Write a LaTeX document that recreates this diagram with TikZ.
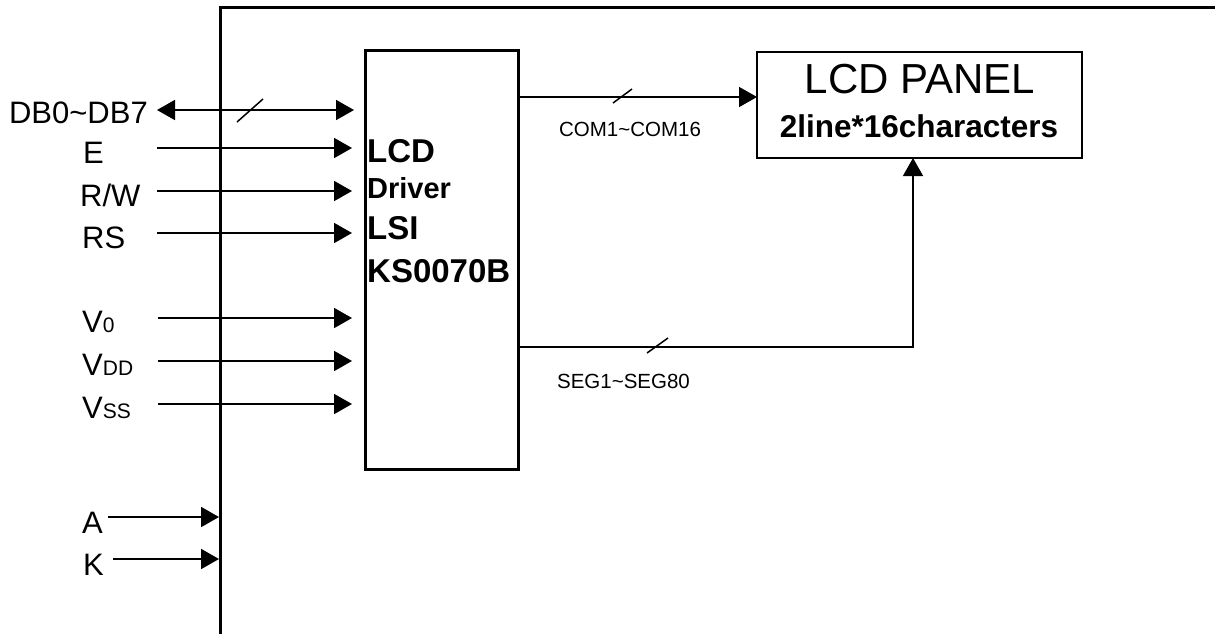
\documentclass[tikz,border=0pt]{standalone}
\usepackage{fontspec}
\setmainfont{Liberation Sans}
\usetikzlibrary{arrows.meta}
\begin{document}
\begin{tikzpicture}[x=1pt,y=-1pt,
  tip/.tip={Triangle[length=18pt,width=20pt]},
  sig/.style={line width=1.8pt,-tip},
  bus/.style={line width=1.5pt},
  lbl/.style={anchor=base west,inner sep=0pt,font=\fontsize{31}{31}\selectfont},
  drvtxt/.style={anchor=base west,inner sep=0pt,font=\bfseries\fontsize{33}{33}\selectfont},
  smalltxt/.style={anchor=base,inner sep=0pt,font=\fontsize{20.5}{20.5}\selectfont}]
\newcommand{\subtxt}[1]{{\fontsize{21}{21}\selectfont #1}}
\useasboundingbox (0,0) rectangle (1215,633);
% outer frame
\coordinate (fbl) at (220,640);
\coordinate (ftl) at (220,7);
\coordinate (ftr) at (1220,7);
\draw[line width=3pt] (fbl) -- (ftl) -- (ftr);
% driver box
\node[draw,line width=3pt,minimum width=153pt,minimum height=419pt,inner sep=0pt,outer sep=0pt,anchor=north west] (drv) at (365,50) {};
\node[drvtxt] (d1) at (367,162) {LCD};
\node[drvtxt,font=\bfseries\fontsize{29}{29}\selectfont] (d2) at (367,198) {Driver};
\node[drvtxt] (d3) at (367,239) {LSI};
\node[drvtxt] (d4) at (367,282) {KS0070B};
% LCD panel
\node[draw,line width=2pt,minimum width=325pt,minimum height=106pt,inner sep=0pt,outer sep=0pt,anchor=north west] (pnl) at (757,52) {};
\node[anchor=base,inner sep=0pt,font=\fontsize{42}{42}\selectfont] (p1) at (920,93) {LCD PANEL};
\node[anchor=base,inner sep=0pt,font=\bfseries\fontsize{31.5}{31.5}\selectfont] (p2) at (919,137) {2line*16characters};
% left labels
\node[lbl,anchor=base east] (lDB) at (148,123) {DB0\textasciitilde DB7};
\node[lbl] (lE) at (83,163) {E};
\node[lbl] (lRW) at (80,206) {R/W};
\node[lbl] (lRS) at (82,248) {RS};
\node[lbl] (lV0) at (82,332) {V\subtxt{0}};
\node[lbl] (lVDD) at (82,375) {V\subtxt{DD}};
\node[lbl] (lVSS) at (82,418) {V\subtxt{SS}};
\node[lbl] (lA) at (82,533) {A};
\node[lbl] (lK) at (83,575) {K};
% signal start points
\coordinate (sDB) at (157,110);
\coordinate (sE) at (157,148);
\coordinate (sRW) at (157,191);
\coordinate (sRS) at (157,233);
\coordinate (sV0) at (158,318);
\coordinate (sVDD) at (158,361);
\coordinate (sVSS) at (158,404);
% inputs to driver
\draw[line width=1.8pt,tip-tip,shorten >=11pt] (sDB) -- (sDB -| drv.west);
\foreach \s in {sE,sRW,sRS,sV0,sVDD,sVSS}
  \draw[sig,shorten >=13pt] (\s) -- (\s -| drv.west);
\coordinate (dbs1) at (237,122);
\coordinate (dbs2) at (263,99);
\draw[line width=1.5pt] (dbs1) -- (dbs2);
% A and K
\coordinate (eA) at (219,517);
\coordinate (eK) at (219,559);
\draw[sig] (lA.east |- eA) ++(5,0) -- (eA);
\draw[sig] (lK.east |- eK) ++(9,0) -- (eK);
% COM bus
\coordinate (com0) at (518,97);
\draw[bus,-tip] (com0) -- (com0 -| pnl.west);
\coordinate (cs1) at (613,103);
\coordinate (cs2) at (632,89);
\draw[bus] (cs1) -- (cs2);
\node[smalltxt] (lCOM) at (630,136) {COM1\textasciitilde COM16};
% SEG bus
\coordinate (seg0) at (518,347);
\coordinate (seg1) at (913,347);
\draw[bus,-tip] (seg0) -- (seg1) -- (seg1 |- pnl.south);
\coordinate (ss1) at (647,353);
\coordinate (ss2) at (668,338);
\draw[bus] (ss1) -- (ss2);
\node[smalltxt] (lSEG) at (623.5,388) {SEG1\textasciitilde SEG80};
\end{tikzpicture}
\end{document}
